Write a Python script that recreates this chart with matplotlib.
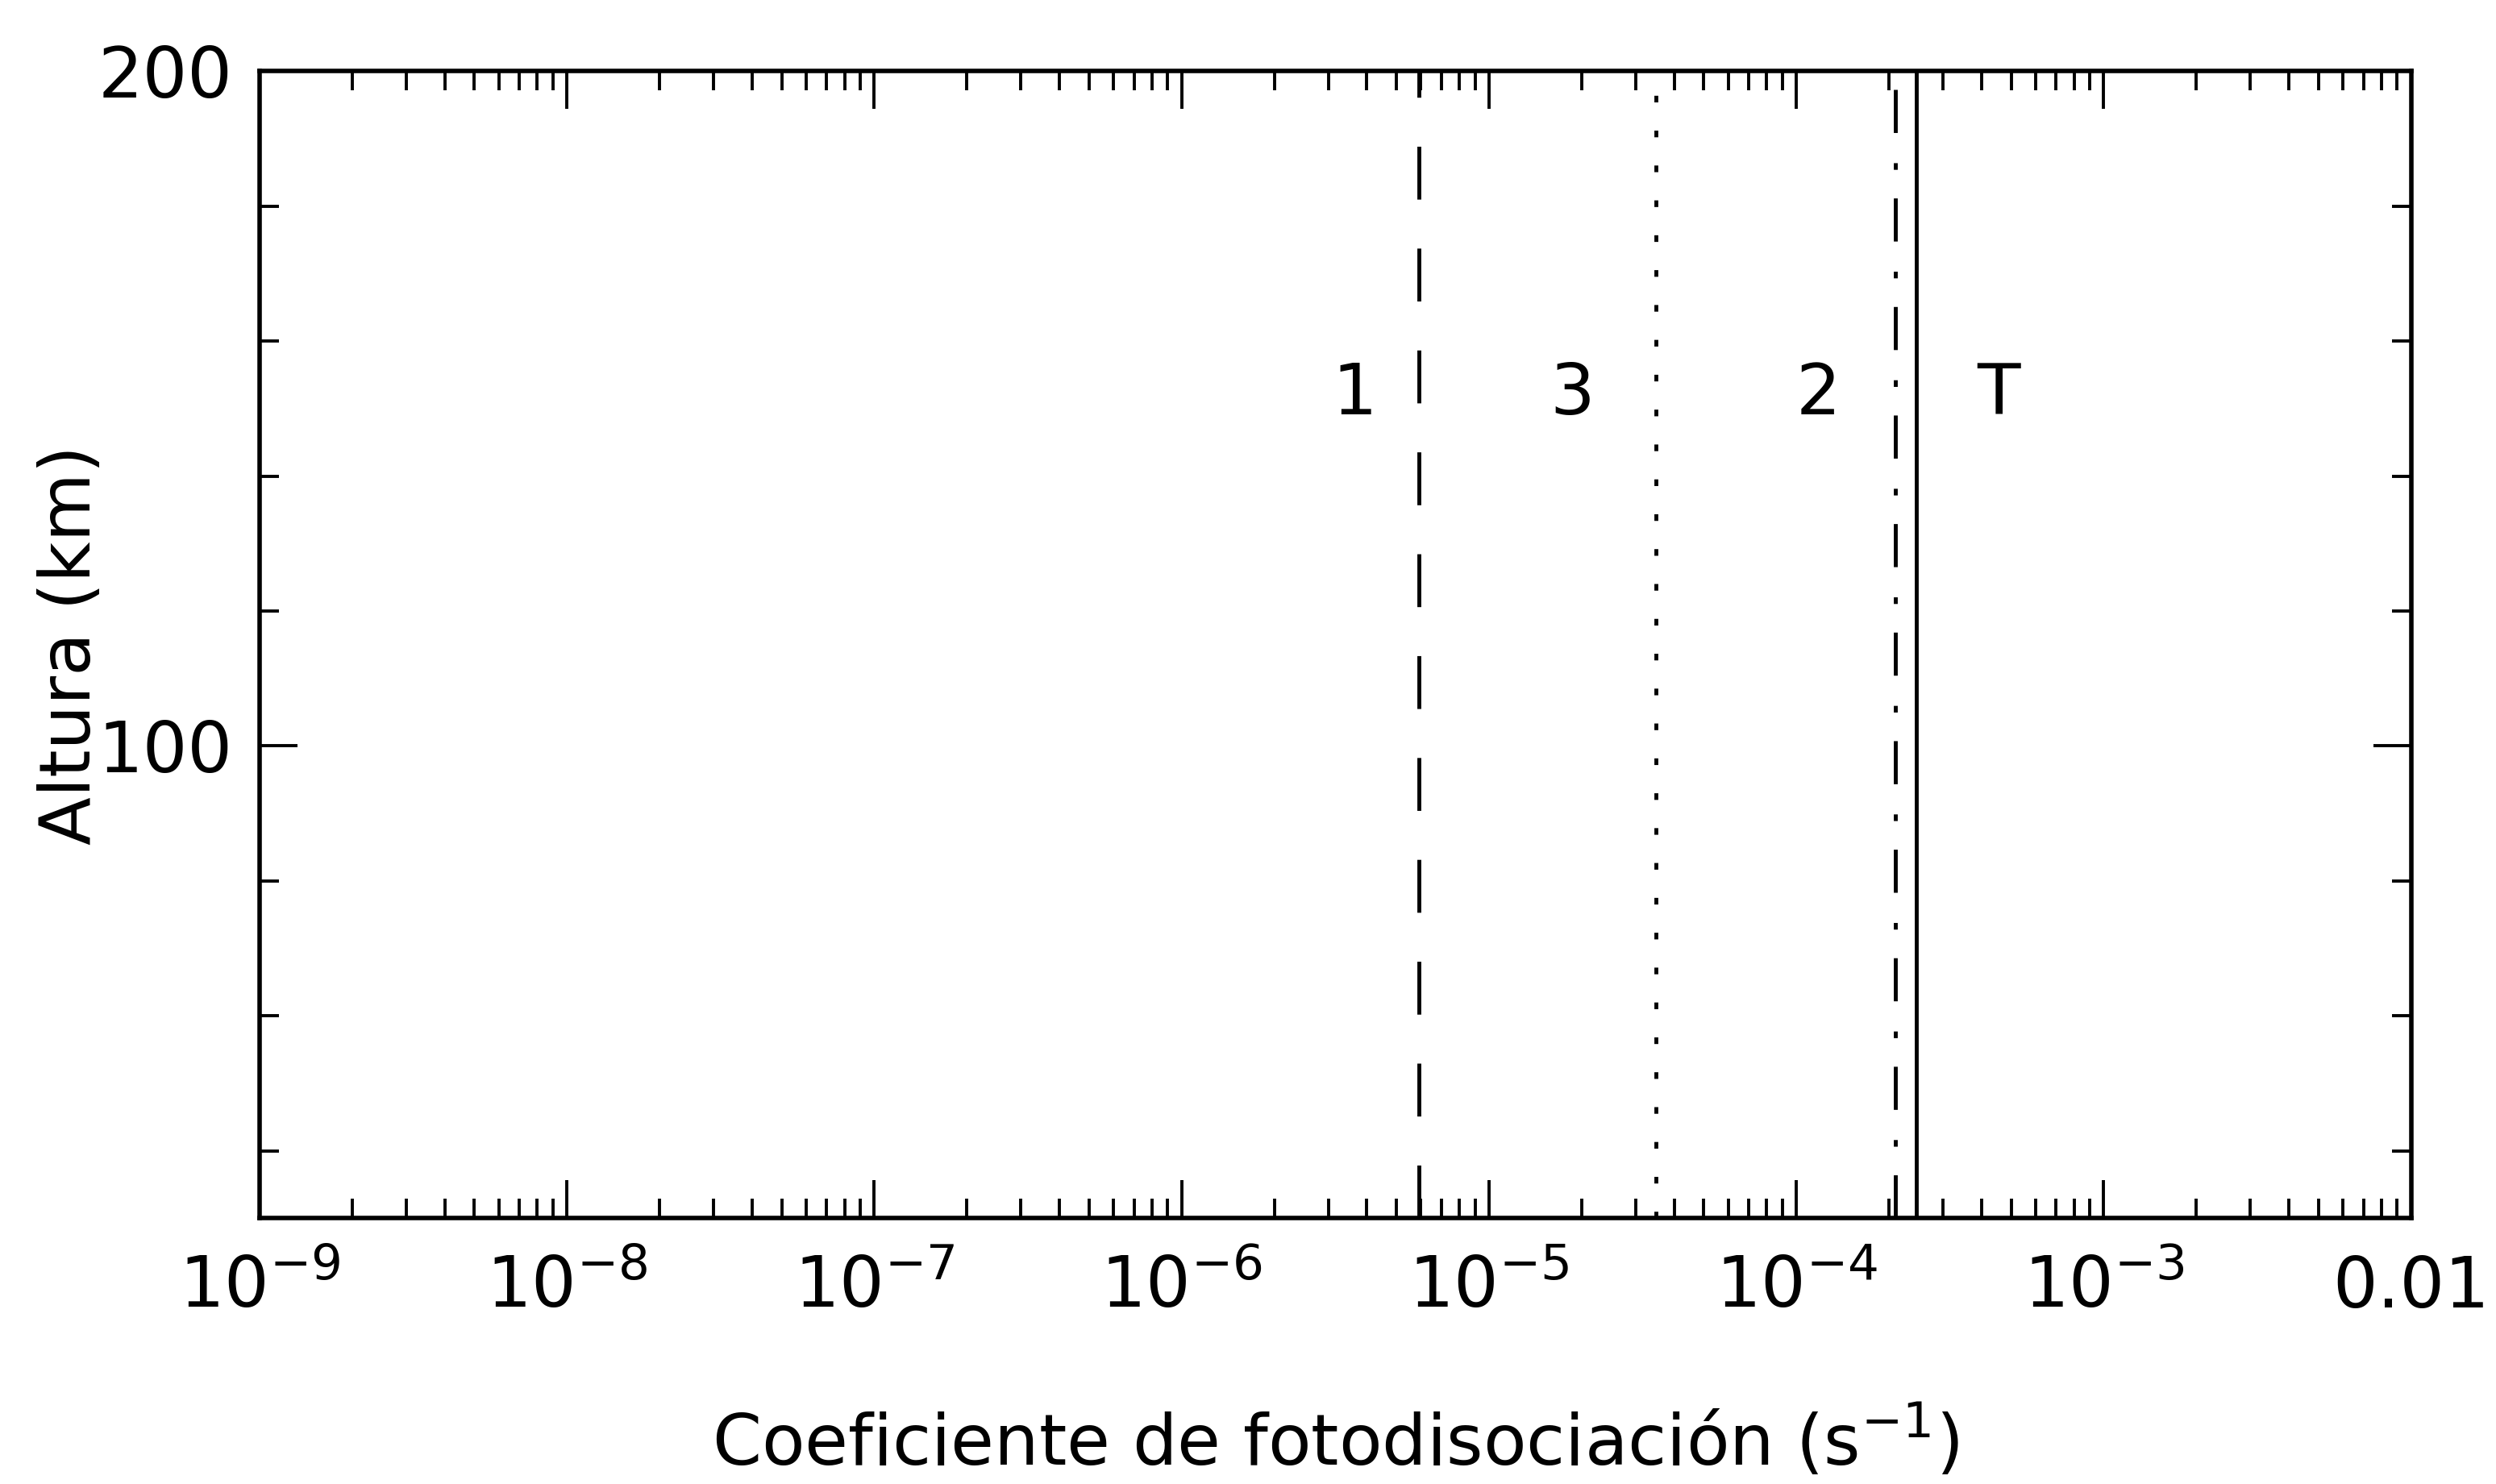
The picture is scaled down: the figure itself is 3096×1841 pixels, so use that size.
import matplotlib
matplotlib.use("Agg")
import matplotlib.pyplot as plt
from matplotlib.ticker import FixedLocator, FixedFormatter, LogLocator, NullFormatter, MultipleLocator

# photodissociation coefficients (s^-1), constant with altitude
line_names = ["1", "3", "2", "T"]
line_coef = [5.9e-6, 3.5e-5, 2.1e-4, 2.45e-4]
line_styles = [(0, (13.5, 12.5)), (0, (1.7, 7.2)), (0, (11.0, 7.3, 1.7, 7.7)), "-"]

# label placement next to each line
label_x = [3.65e-6, 1.86e-5, 1.18e-4, 4.55e-4]
label_y = [152, 152, 152, 152]

alt_range = [30, 200]
xlim = [1e-9, 1e-2]

x_major = [1e-9, 1e-8, 1e-7, 1e-6, 1e-5, 1e-4, 1e-3, 1e-2]
x_major_labels = [r"$\mathdefault{10^{-9}}$", r"$\mathdefault{10^{-8}}$",
                  r"$\mathdefault{10^{-7}}$", r"$\mathdefault{10^{-6}}$",
                  r"$\mathdefault{10^{-5}}$", r"$\mathdefault{10^{-4}}$",
                  r"$\mathdefault{10^{-3}}$", "0.01"]
y_major = [100, 200]

plt.rcParams["font.family"] = ["DejaVu Sans"]
fs = 63

fig = plt.figure(figsize=(30.96, 18.41), dpi=100)
ax = fig.add_axes([0.104, 0.179, 0.862, 0.773])

for name, c, ls in zip(line_names, line_coef, line_styles):
    ax.plot([c, c], alt_range, color="black", lw=3.5, linestyle=ls)

for name, x, y in zip(line_names, label_x, label_y):
    ax.text(x, y, name, fontsize=fs, ha="center", va="center")

ax.set_xscale("log")
ax.set_xlim(xlim)
ax.set_ylim(alt_range)

ax.xaxis.set_major_locator(FixedLocator(x_major))
ax.xaxis.set_major_formatter(FixedFormatter(x_major_labels))
ax.xaxis.set_minor_locator(LogLocator(base=10, subs=range(2, 10), numticks=100))
ax.xaxis.set_minor_formatter(NullFormatter())
ax.yaxis.set_major_locator(FixedLocator(y_major))
ax.yaxis.set_minor_locator(MultipleLocator(20))

ax.tick_params(which="both", direction="in", top=True, right=True, width=2.8, colors="black")
ax.tick_params(which="major", length=34, labelsize=fs)
ax.tick_params(which="minor", length=17)
ax.tick_params(axis="x", which="major", pad=32)
ax.tick_params(axis="y", which="major", pad=24)

for sp in ax.spines.values():
    sp.set_linewidth(4)

ax.set_xlabel(r"Coeficiente de fotodisociación (s$^{-1}$)", fontsize=fs)
ax.set_ylabel("Altura (km)", fontsize=fs)
ax.xaxis.set_label_coords(0.5, -0.162)
ax.xaxis.label.set_va("top")
ax.yaxis.set_label_coords(-0.072, 0.5)

fig.savefig("out.png", dpi=100, facecolor="white")
